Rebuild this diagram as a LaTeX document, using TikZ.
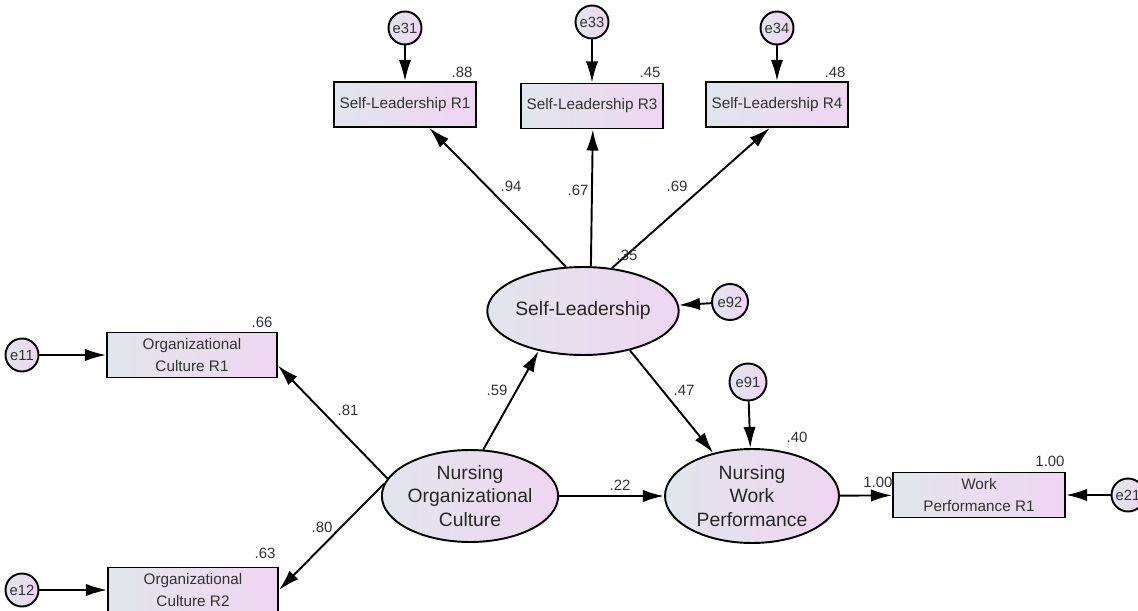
\documentclass[tikz,border=0pt]{standalone}
\usepackage{fontspec}
\setmainfont{Liberation Sans}
\usetikzlibrary{shapes.geometric,arrows.meta}
\definecolor{fillL}{HTML}{E2E6EC}
\definecolor{fillR}{HTML}{EED6F1}
\definecolor{txt}{HTML}{333333}
\begin{document}
\begin{tikzpicture}[x=0.02cm, y=-0.02cm, line width=1.1pt,
    obs/.style={draw, rectangle, left color=fillL, right color=fillR, minimum width=2.84cm, minimum height=0.9cm, inner sep=0pt, align=center, text=txt, font=\fontsize{8.7}{12.5}\selectfont},
    lat/.style={draw, ellipse, left color=fillL, right color=fillR, minimum width=3.44cm, minimum height=1.76cm, inner sep=0pt, align=center, text=black!85, font=\fontsize{11}{13.2}\selectfont},
    err/.style={draw, circle, left color=fillL, right color=fillR, minimum size=0.66cm, inner sep=0pt, text=txt, font=\fontsize{8.4}{9}\selectfont},
    est/.style={inner sep=0pt, text=txt, font=\fontsize{8.5}{10}\selectfont},
    arr/.style={-{Latex[length=12pt,width=7pt]}}]
    \useasboundingbox (0,0) rectangle (1138,611);

    \node[err] (e31) at (405,28) {e31};
    \node[err] (e33) at (592,22) {e33};
    \node[err] (e34) at (777,28) {e34};
    \node[obs] (SLR1) at (405,104.5) {Self-Leadership R1};
    \node[obs] (SLR3) at (592,106) {Self-Leadership R3};
    \node[obs] (SLR4) at (777,104.5) {Self-Leadership R4};
    \node[lat] (SL) at (583,311) {Self-Leadership};
    \node[err, minimum size=0.72cm] (e92) at (730,302) {e92};
    \node[obs, minimum width=3.4cm] (OCR1) at (192,355) {Organizational\\Culture R1};
    \node[obs, minimum width=3.4cm] (OCR2) at (193,590) {Organizational\\Culture R2};
    \node[err] (e11) at (22,355) {e11};
    \node[err] (e12) at (22,590) {e12};
    \node[lat, minimum width=3.4cm, minimum height=1.84cm] (NOC) at (470,496) {Nursing\\Organizational\\Culture};
    \node[lat, minimum width=3.48cm, minimum height=1.88cm] (NWP) at (752,496) {Nursing\\Work\\Performance};
    \node[err, minimum size=0.74cm] (e91) at (748,382) {e91};
    \node[obs, minimum width=3.44cm] (WPR1) at (979,495) {Work\\Performance R1};
    \node[err] (e21) at (1128,495) {e21};

    \draw[arr] (e31) -- (SLR1);
    \draw[arr] (e33) -- (SLR3);
    \draw[arr] (e34) -- (SLR4);
    \draw[arr] (SL.111) -- (SLR1.-44);
    \draw[arr] (SL.80) -- (SLR3.-88);
    \draw[arr] (SL.56) -- (SLR4.-107);
    \draw[arr] (e92) -- (SL);
    \draw[arr] (e11) -- (OCR1);
    \draw[arr] (e12) -- (OCR2);
    \draw[arr] (NOC.168) -- (OCR1.-7);
    \draw[arr] (NOC.172) -- (OCR2.east);
    \draw[arr] (NOC.74) -- (SL.222);
    \draw[arr] (NOC) -- (NWP);
    \draw[arr] (SL.320) -- (NWP.132);
    \draw[arr] (e91) -- (NWP);
    \draw[arr] (NWP) -- (WPR1);
    \draw[arr] (e21) -- (WPR1);

    \node[est] (l88) at (462,72) {.88};
    \node[est] (l45) at (650,72) {.45};
    \node[est] (l48) at (835,72) {.48};
    \node[est] (l94) at (511,186) {.94};
    \node[est] (l67) at (578,190) {.67};
    \node[est] (l69) at (677,186) {.69};
    \node[est] (l35) at (627,255) {.35};
    \node[est] (l66) at (262,322) {.66};
    \node[est] (l63) at (265,553) {.63};
    \node[est] (l81) at (348,410) {.81};
    \node[est] (l80) at (322,527) {.80};
    \node[est] (l59) at (497,390) {.59};
    \node[est] (l47) at (684,390) {.47};
    \node[est] (l40) at (797,437) {.40};
    \node[est] (l22) at (620,485) {.22};
    \node[est] (l100a) at (1050,461) {1.00};
    \node[est] (l100b) at (878,482) {1.00};
\end{tikzpicture}
\end{document}
